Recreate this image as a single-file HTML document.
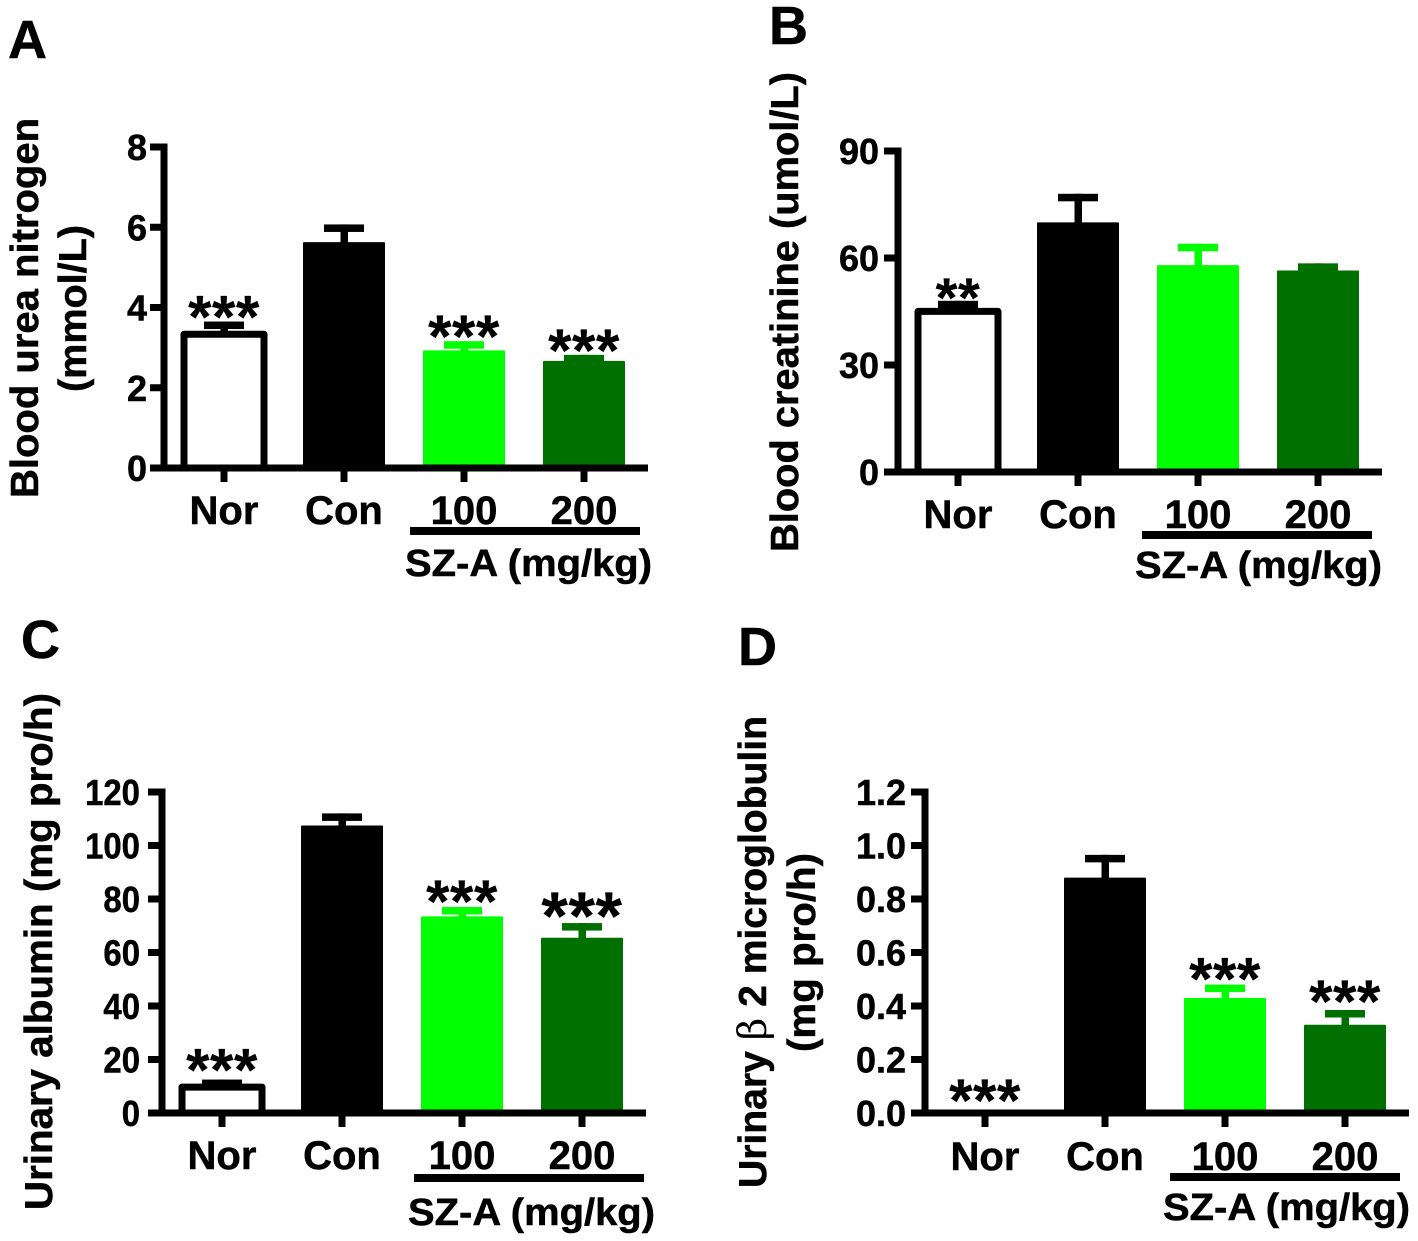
<!DOCTYPE html>
<html lang="en">
<head>
<meta charset="utf-8">
<title>SZ-A renal function bar charts</title>
<style>
  html, body { margin: 0; padding: 0; background: #fff; }
  svg { display: block; }
  text { font-family: "Liberation Sans", Arial, sans-serif; font-weight: bold; fill: #000; stroke: #000; stroke-width: 0.5px; }
  .star { stroke-width: 0.2px; letter-spacing: 0.6px; }
  .beta { font-family: "DejaVu Serif", "Liberation Serif", serif; font-weight: normal; stroke-width: 0; }
</style>
</head>
<body>
<svg id="figure" xmlns="http://www.w3.org/2000/svg" width="1418" height="1241" viewBox="0 0 1418 1241"></svg>
<script>
const categories = ['Nor', 'Con', '100', '200'];
const groupLabel = 'SZ-A (mg/kg)';

const valuesA = [3.42, 5.63, 2.93, 2.67];
const errorsA = [3.65, 6.07, 3.16, 2.82];
const ticksA = ['0', '2', '4', '6', '8'];
const starsA = ['***', '', '***', '***'];

const valuesB = [46, 70, 58, 56.5];
const errorsB = [48, 78, 64, 58.5];
const ticksB = ['0', '30', '60', '90'];
const starsB = ['**', '', '', ''];

const valuesC = [11, 107.5, 73.5, 65.5];
const errorsC = [12.5, 112, 77, 71];
const ticksC = ['0', '20', '40', '60', '80', '100', '120'];
const starsC = ['***', '', '***', '***'];

const valuesD = [0, 0.88, 0.43, 0.33];
const errorsD = [0, 0.965, 0.48, 0.385];
const ticksD = ['0.0', '0.2', '0.4', '0.6', '0.8', '1.0', '1.2'];
const starsD = ['***', '', '***', '***'];

const NS = 'http://www.w3.org/2000/svg';
const svg = document.getElementById('figure');
const fills = ['#ffffff', '#000000', '#00ff00', '#007000'];

function make(parent, tag, attrs) {
  const el = document.createElementNS(NS, tag);
  for (const k in attrs) el.setAttribute(k, attrs[k]);
  parent.appendChild(el);
  return el;
}

function addText(parent, str, x, y, size, anchor, length) {
  const attrs = { x: x, y: y, 'font-size': size, 'text-anchor': anchor };
  if (length) { attrs.textLength = length; attrs.lengthAdjust = 'spacingAndGlyphs'; }
  const t = make(parent, 'text', attrs);
  t.textContent = str;
  return t;
}

function addRotated(parent, str, baseX, startY, endY, size) {
  const len = endY - startY;
  const attrs = {
    x: 0, y: 0, 'font-size': size, 'text-anchor': 'start',
    transform: 'translate(' + baseX + ',' + endY + ') rotate(-90)',
    textLength: len, lengthAdjust: 'spacingAndGlyphs'
  };
  const t = make(parent, 'text', attrs);
  const parts = str.split('β');
  if (parts.length === 2) {
    t.appendChild(document.createTextNode(parts[0]));
    const b = make(t, 'tspan', {});
    b.setAttribute('class', 'beta');
    b.textContent = 'β';
    t.appendChild(document.createTextNode(parts[1]));
  } else {
    t.textContent = str;
  }
  return t;
}

function drawPanel(id, cfg, values, errors, ticks, stars) {
  const g = make(svg, 'g', {});
  
  

  const maxV = parseFloat(ticks[ticks.length - 1]);
  const yScale = function (v) { return cfg.y0 - (v / maxV) * (cfg.y0 - cfg.yTop); };
  const xScale = function (i) { return cfg.x0 + i * 120; };

  const letter = addText(g, id, cfg.letterX, cfg.letterY, 54, 'start');
  
  

  categories.forEach(function (cat, i) {
    const cx = xScale(i);
    const top = yScale(values[i]);
    const errTop = yScale(errors[i]);
    if (values[i] > 0) {
      const isOpen = fills[i] === '#ffffff';
      const stem = make(g, 'rect', { x: cx - 3.5, y: errTop, width: 7.5, height: top - errTop + 2, fill: isOpen ? '#000000' : fills[i] });
      
      
      const cap = make(g, 'rect', { x: cx - 20, y: errTop, width: 40, height: 7.5, fill: isOpen ? '#000000' : fills[i] });
      
      
      const bar = make(g, 'rect', {
        x: isOpen ? cx - 40 : cx - 41,
        y: isOpen ? top + 3.5 : top,
        width: isOpen ? 80 : 82,
        height: cfg.y0 - top - (isOpen ? 3.5 : 0),
        rx: isOpen ? 0 : 1,
        fill: fills[i],
        stroke: isOpen ? '#000000' : 'none',
        'stroke-width': isOpen ? 7 : 0,
        'stroke-linejoin': 'round'
      });
      
      
    }
    if (stars[i]) {
      const star = addText(g, stars[i], cx, errTop + cfg.starOffsets[i], cfg.starSizes[i], 'middle');
      star.setAttribute('class', 'star');
      
      
    }
    const tick = make(g, 'rect', { x: cx - 3.5, y: cfg.y0, width: 7, height: 14, fill: '#000' });
    
    
    const label = addText(g, cat, cx, cfg.y0 + cfg.catOffset, 40, 'middle');
    
    
  });

  const yAxis = make(g, 'rect', { x: cfg.axisX - 3.5, y: cfg.yTop - 3.5, width: 7, height: cfg.y0 - cfg.yTop + 7, fill: '#000' });
  
  
  const xAxis = make(g, 'rect', { x: cfg.axisX - 14, y: cfg.y0 - 3.5, width: 498, height: 7, fill: '#000' });
  
  

  ticks.forEach(function (lab) {
    const ty = yScale(parseFloat(lab));
    const tk = make(g, 'rect', { x: cfg.axisX - 14, y: ty - 3.5, width: 14, height: 7, fill: '#000' });
    
    
    const tl = addText(g, lab, cfg.axisX - cfg.tickGap, ty + 13, 36, 'end', cfg.digitW ? lab.length * cfg.digitW : 0);
    
    
  });

  const groupLine = make(g, 'rect', { x: cfg.lineX, y: cfg.lineY, width: 230, height: 8, fill: '#000' });
  
  
  const group = addText(g, groupLabel, cfg.groupX, cfg.groupY, 38, 'start', 247);
  
  

  cfg.titles.forEach(function (tt) {
    const t = addRotated(g, tt[0], tt[1], tt[2], tt[3], 39);
    
    
  });
}

drawPanel('A', {
  letterX: 8, letterY: 58, axisX: 164, x0: 224, y0: 468, yTop: 147,
  catOffset: 56, tickGap: 17,
  starOffsets: [16, 0, 16, 16], starSizes: [60, 60, 60, 60],
  lineX: 410, lineY: 527, groupX: 405, groupY: 576,
  titles: [['Blood urea nitrogen', 38, 118, 498], ['(mmol/L)', 86, 225, 392]]
}, valuesA, errorsA, ticksA, starsA);

drawPanel('B', {
  letterX: 769, letterY: 44, axisX: 898, x0: 958, y0: 472, yTop: 151,
  catOffset: 56, tickGap: 19,
  starOffsets: [16, 0, 0, 0], starSizes: [56, 56, 56, 56],
  lineX: 1142, lineY: 531, groupX: 1135, groupY: 578,
  titles: [['Blood creatinine (umol/L)', 798, 72, 552]]
}, valuesB, errorsB, ticksB, starsB);

drawPanel('C', {
  letterX: 21, letterY: 658, axisX: 162, x0: 222, y0: 1113, yTop: 792,
  catOffset: 56, tickGap: 22, digitW: 18.3,
  starOffsets: [11, 0, 15, 16], starSizes: [60, 60, 60, 68],
  lineX: 414, lineY: 1174, groupX: 408, groupY: 1225,
  titles: [['Urinary albumin (mg pro/h)', 52, 693, 1210]]
}, valuesC, errorsC, ticksC, starsC);

drawPanel('D', {
  letterX: 738, letterY: 665, axisX: 925, x0: 985, y0: 1113, yTop: 792,
  catOffset: 57, tickGap: 19,
  starOffsets: [8, 0, 15, 12], starSizes: [60, 60, 60, 60],
  lineX: 1170, lineY: 1173, groupX: 1163, groupY: 1220,
  titles: [['Urinary β 2 microglobulin', 766, 716, 1188], ['(mg pro/h)', 815, 853, 1052]]
}, valuesD, errorsD, ticksD, starsD);
</script>
</body>
</html>
